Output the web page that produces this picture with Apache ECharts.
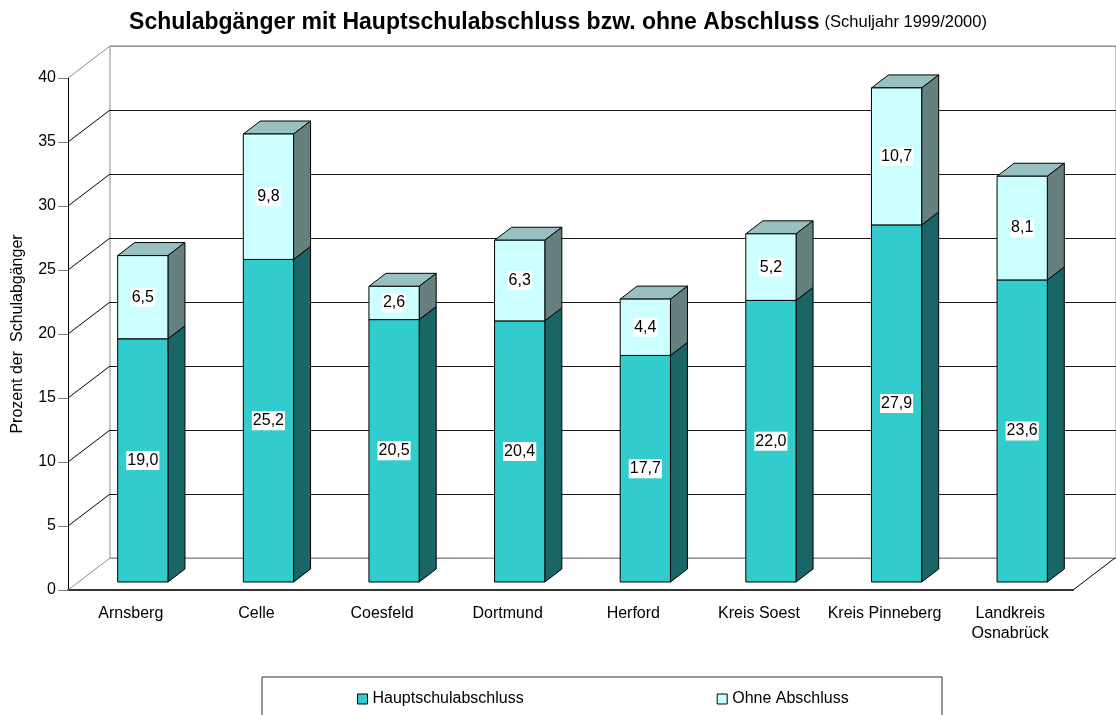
<!DOCTYPE html>
<html>
<head>
<meta charset="utf-8">
<title>Schulabgänger</title>
<script src="https://cdn.jsdelivr.net/npm/echarts@6/dist/echarts.min.js"></script>
<style>
  html, body { margin: 0; padding: 0; background: #fff; }
  #chart { width: 1116px; height: 715px; }
</style>
</head>
<body>
<div id="chart"></div>
<script>
const categories = ['Arnsberg', 'Celle', 'Coesfeld', 'Dortmund', 'Herford', 'Kreis Soest', 'Kreis Pinneberg', 'Landkreis\nOsnabrück'];
const hauptschulabschluss = [19.0, 25.2, 20.5, 20.4, 17.7, 22.0, 27.9, 23.6];
const ohneAbschluss = [6.5, 9.8, 2.6, 6.3, 4.4, 5.2, 10.7, 8.1];
const yTicks = [0, 5, 10, 15, 20, 25, 30, 35, 40];

// 3D look: offset of the back wall, of the bar front and bar depth (pixels)
const WALL_DX = 42, WALL_DY = -32;
const FRONT_DX = 12, FRONT_DY = -8;
const BAR_DX = 17, BAR_DY = -13;
const FONT = '"Liberation Sans", Arial, sans-serif';

const chart = echarts.init(document.getElementById('chart'));

function fmt(v) {
    return v.toFixed(1).replace('.', ',');
}

function boxItem(colors) {
    return function (params, api) {
        const idx = api.value(0);
        const base = api.value(1);
        const top = api.value(2);
        const val = api.value(3);
        const pb = api.coord([idx, base]);
        const pt = api.coord([idx, top]);
        const band = api.size([1, 0])[0];
        const w = band * 0.4;
        const cx = pb[0] + FRONT_DX;
        const x0 = cx - w / 2, x1 = cx + w / 2;
        const yb = pb[1] + FRONT_DY, yt = pt[1] + FRONT_DY;
        const stroke = { stroke: '#000', lineWidth: 1 };
        return {
            type: 'group',
            children: [
                {
                    type: 'polygon',
                    shape: { points: [[x0, yt], [x0 + BAR_DX, yt + BAR_DY], [x1 + BAR_DX, yt + BAR_DY], [x1, yt]] },
                    style: Object.assign({ fill: colors.top }, stroke)
                },
                {
                    type: 'polygon',
                    shape: { points: [[x1, yt], [x1 + BAR_DX, yt + BAR_DY], [x1 + BAR_DX, yb + BAR_DY], [x1, yb]] },
                    style: Object.assign({ fill: colors.side }, stroke)
                },
                {
                    type: 'rect',
                    shape: { x: x0, y: yt, width: w, height: yb - yt },
                    style: Object.assign({ fill: colors.front }, stroke)
                },
                {
                    type: 'text',
                    x: cx,
                    y: (yt + yb) / 2,
                    style: {
                        text: fmt(val),
                        fill: '#000',
                        font: '16px ' + FONT,
                        align: 'center',
                        verticalAlign: 'middle',
                        backgroundColor: '#fff',
                        padding: [2, 1, 1, 1]
                    }
                }
            ]
        };
    };
}

function frameItem(params, api) {
    const cs = params.coordSys;
    const children = [];
    yTicks.forEach((v, i) => {
        const y = api.coord([0, v])[1];
        const edge = i === 0 || i === yTicks.length - 1;
        children.push({
            type: 'line',
            shape: { x1: cs.x, y1: y, x2: cs.x + WALL_DX, y2: y + WALL_DY },
            style: { stroke: edge ? '#8c8c8c' : '#000', lineWidth: 1 }
        });
    });
    const y0 = api.coord([0, yTicks[0]])[1];
    children.push({
        type: 'line',
        shape: { x1: cs.x + cs.width, y1: y0, x2: cs.x + cs.width + WALL_DX, y2: y0 + WALL_DY },
        style: { stroke: '#000', lineWidth: 1 }
    });
    return { type: 'group', children: children };
}

const lowerData = categories.map((c, i) => [i, 0, hauptschulabschluss[i], hauptschulabschluss[i]]);
const upperData = categories.map((c, i) => [i, hauptschulabschluss[i], hauptschulabschluss[i] + ohneAbschluss[i], ohneAbschluss[i]]);

const splitColors = yTicks.map((v, i) => (i === 0 || i === yTicks.length - 1) ? '#8c8c8c' : '#1a1a1a');

const option = {
    animation: false,
    textStyle: { fontFamily: FONT },
    title: {
        text: '{a|Schulabgänger mit Hauptschulabschluss bzw. ohne Abschluss} {b|(Schuljahr 1999/2000)}',
        left: 'center',
        top: 6,
        textStyle: {
            rich: {
                a: { fontSize: 23, fontWeight: 'bold', color: '#000', fontFamily: FONT },
                b: { fontSize: 16.5, fontWeight: 'normal', color: '#000', fontFamily: FONT }
            }
        }
    },
    legend: {
        left: 357,
        top: 691,
        padding: 0,
        itemWidth: 10,
        itemHeight: 10,
        itemGap: 193,
        textStyle: { fontSize: 16, color: '#000', fontFamily: FONT },
        data: [
            { name: 'Hauptschulabschluss', icon: 'rect', itemStyle: { color: '#33cccc', borderColor: '#000', borderWidth: 1 } },
            { name: 'Ohne Abschluss', icon: 'rect', itemStyle: { color: '#ccffff', borderColor: '#000', borderWidth: 1 } }
        ]
    },
    graphic: [
        {
            type: 'rect',
            shape: { x: 262, y: 677, width: 680, height: 60 },
            style: { fill: 'none', stroke: '#333', lineWidth: 1 }
        }
    ],
    grid: [
        { left: 68, top: 78, width: 1005, height: 512 },
        { left: 110, top: 46, width: 1006, height: 512, show: true, borderColor: '#8c8c8c', borderWidth: 1, backgroundColor: 'transparent' }
    ],
    xAxis: [
        {
            type: 'category',
            gridIndex: 0,
            data: categories,
            axisLine: { lineStyle: { color: '#333', width: 2 } },
            axisTick: { length: 9, lineStyle: { color: '#333' } },
            axisLabel: { fontSize: 16, color: '#000', margin: 14, lineHeight: 20, interval: 0 }
        },
        {
            type: 'category',
            gridIndex: 1,
            data: categories,
            show: false
        }
    ],
    yAxis: [
        {
            type: 'value',
            gridIndex: 0,
            min: 0,
            max: 40,
            interval: 5,
            name: 'Prozent der  Schulabgänger',
            nameLocation: 'middle',
            nameGap: 42,
            nameTextStyle: { fontSize: 16, color: '#000' },
            axisLine: { show: true, lineStyle: { color: '#000' } },
            axisTick: { show: true, length: 10, lineStyle: { color: '#808080' } },
            axisLabel: { fontSize: 16, color: '#000', margin: 12 },
            splitLine: { show: false }
        },
        {
            type: 'value',
            gridIndex: 1,
            min: 0,
            max: 40,
            interval: 5,
            axisLine: { show: false },
            axisTick: { show: false },
            axisLabel: { show: false },
            splitLine: { show: true, lineStyle: { color: splitColors, width: 1 } }
        }
    ],
    series: [
        {
            type: 'custom',
            name: 'frame',
            xAxisIndex: 0,
            yAxisIndex: 0,
            silent: true,
            z: 1,
            renderItem: frameItem,
            data: [[0]]
        },
        {
            type: 'custom',
            name: 'Hauptschulabschluss',
            xAxisIndex: 0,
            yAxisIndex: 0,
            z: 3,
            itemStyle: { color: '#33cccc' },
            encode: { x: 0, y: [1, 2] },
            renderItem: boxItem({ front: '#33cccc', side: '#1a6666', top: '#26999a' }),
            data: lowerData
        },
        {
            type: 'custom',
            name: 'Ohne Abschluss',
            xAxisIndex: 0,
            yAxisIndex: 0,
            z: 4,
            itemStyle: { color: '#ccffff' },
            encode: { x: 0, y: [1, 2] },
            renderItem: boxItem({ front: '#ccffff', side: '#668080', top: '#99c0c0' }),
            data: upperData
        }
    ]
};

chart.setOption(option);
</script>
</body>
</html>
